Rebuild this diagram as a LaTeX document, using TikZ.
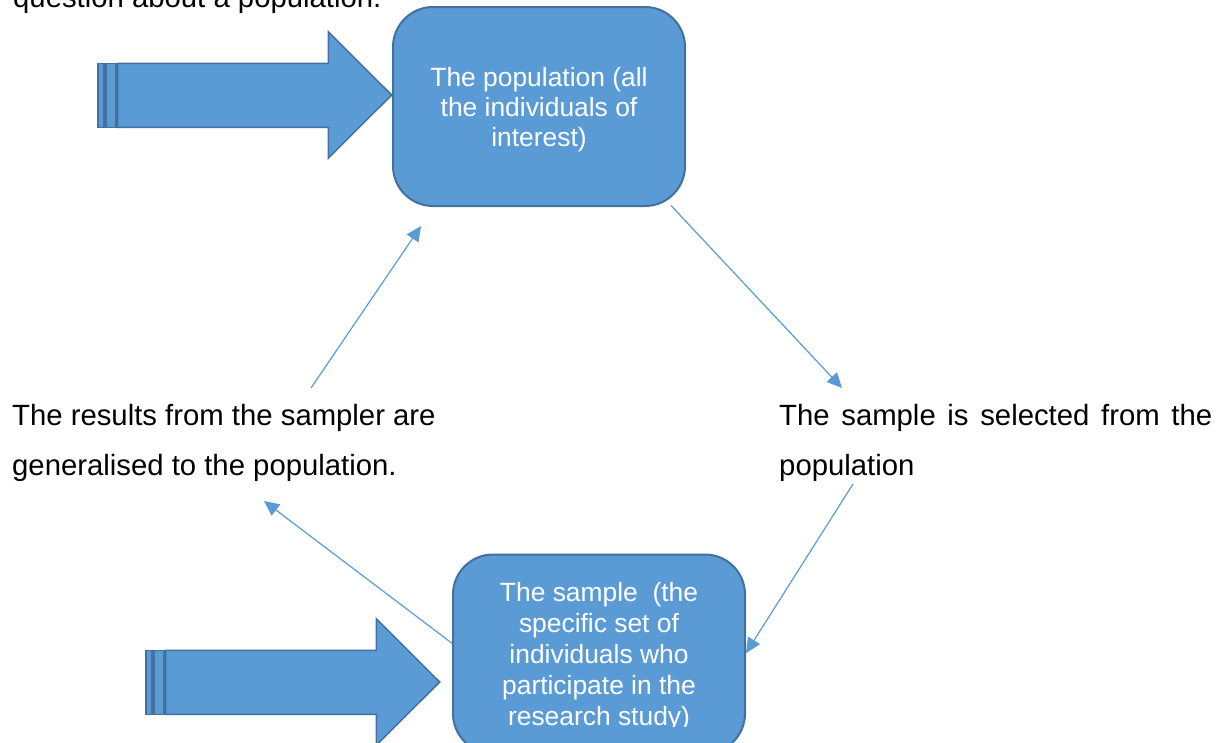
\documentclass[tikz,border=0pt]{standalone}
\usepackage{fontspec}
\setmainfont{Liberation Sans}
\usetikzlibrary{arrows.meta,calc}
\definecolor{boxblue}{HTML}{5B9BD5}
\definecolor{edgeblue}{HTML}{41719C}

\begin{document}
\begin{tikzpicture}[x=1pt,y=-1pt,
  roundbox/.style={draw=edgeblue, line width=2pt, fill=boxblue,
    rounded corners=40pt, minimum width=292pt, minimum height=199pt,
    inner sep=0pt},
  boxtext/.style={text=white, align=center, inner sep=0pt, anchor=north,
    font=\fontsize{26.4}{30}\selectfont},
  notetext/.style={inner sep=0pt, anchor=north west, align=left,
    font=\fontsize{29.3}{50}\selectfont},
  link/.style={draw=boxblue, line width=1.2pt,
    -{Triangle[length=15pt,width=14pt]}},
  blockarrow/.style={draw=edgeblue, line width=1.5pt, fill=boxblue,
    line join=miter},
  fatarrow/.pic={
    \draw[blockarrow] (117.5,63.3) -- (328.3,63.3) -- (328.3,31.7)
      -- (391.7,95) -- (328.3,158.3) -- (328.3,127.3) -- (117.5,127.3) -- cycle;
    \draw[blockarrow] (98,63.3) rectangle (104,127.3);
    \draw[blockarrow] (106,63.3) rectangle (116,127.3);
  }
]
\useasboundingbox (0,0) rectangle (1225,742);

% running text above the figure
\node[inner sep=0pt, anchor=base west, font=\fontsize{29.3}{50}\selectfont]
  (intro) at (13,7) {question about a population.};

% the two captions
\node[notetext] (gen) at (12,403.6)
  {The results from the sampler are\\generalised to the population.};
\node[notetext, text width=433pt, align=justify] (sel) at (779,403.6)
  {The sample is selected from the population};

% free ends of the connectors
\coordinate (selTop) at (842,388);
\coordinate (selBot) at (853,484);
\coordinate (genBot) at (264,501);
\coordinate (genTop) at (311,388);
\coordinate (popEnd) at (421,226);

% box positions
\coordinate (popC) at (539,106.5);
\coordinate (sampleC) at (599,654);

% connectors (drawn below the boxes)
\draw[link] ($(popC)+(132,99)$) -- (selTop);
\draw[link] (selBot) -- ($(sampleC)+(147,-1)$);
\draw[link] ($(sampleC)+(-146,-10)$) -- (genBot);
\draw[link] (genTop) -- (popEnd);

% block arrows feeding the boxes
\pic (arrowA) at (0,0) {fatarrow};
\pic (arrowB) at (48,587) {fatarrow};

% population box
\node[roundbox] (pop) at (popC) {};
\node[boxtext] (popText) at (539,67.5)
  {The population (all\\the individuals of\\interest)};

% sample box, its text cut off at the lower edge of the text area
\node[roundbox] (sample) at (sampleC) {};
\begin{scope}
  \clip (450,560) rectangle (750,726);
  \node[boxtext, font=\fontsize{26.4}{31}\selectfont] (sampleText) at (599,582)
    {The sample~ (the\\specific set of\\individuals who\\participate in the\\research study)};
\end{scope}
\end{tikzpicture}
\end{document}
